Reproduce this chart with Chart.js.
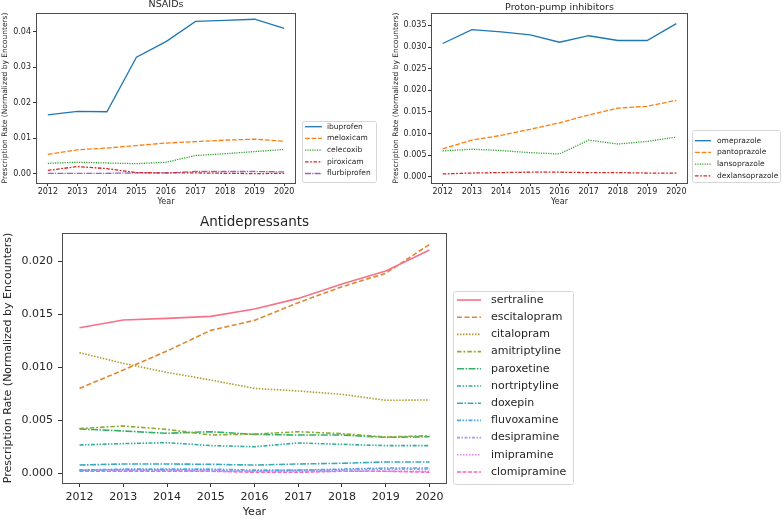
<!DOCTYPE html>
<html>
<head>
<meta charset="utf-8">
<script src="https://cdn.jsdelivr.net/npm/chart.js@4.4.0/dist/chart.umd.min.js"></script>
<style>
  html, body { margin: 0; padding: 0; background: #fff; }
  body { width: 784px; height: 519px; position: relative; overflow: hidden; }
  .box { position: absolute; }
</style>
</head>
<body>
<div class="box" style="left:0;top:0;width:390px;height:215px"><canvas id="nsaidChart"></canvas></div>
<div class="box" style="left:390px;top:0;width:394px;height:215px"><canvas id="ppiChart"></canvas></div>
<div class="box" style="left:0;top:205px;width:784px;height:314px"><canvas id="adChart"></canvas></div>
<script>
const years = [2012, 2013, 2014, 2015, 2016, 2017, 2018, 2019, 2020];

// NSAIDs
const ibuprofen    = [0.0166, 0.0176, 0.0175, 0.0328, 0.0372, 0.0429, 0.0432, 0.0435, 0.0409];
const meloxicam    = [0.0055, 0.0068, 0.0073, 0.0080, 0.0087, 0.0091, 0.0095, 0.0098, 0.0092];
const celecoxib    = [0.0030, 0.0033, 0.0031, 0.0029, 0.0033, 0.0052, 0.0057, 0.0063, 0.0069];
const piroxicam    = [0.0010, 0.0021, 0.0015, 0.0004, 0.0003, 0.0003, 0.0002, 0.0001, 0.0002];
const flurbiprofen = [0.0002, 0.0002, 0.0002, 0.0003, 0.0003, 0.0007, 0.0007, 0.0007, 0.0006];
const nsaidTicks = [0, 0.01, 0.02, 0.03, 0.04];

// Proton-pump inhibitors
const omeprazole      = [0.0308, 0.0340, 0.0335, 0.0328, 0.0311, 0.0326, 0.0315, 0.0315, 0.0354];
const pantoprazole    = [0.0065, 0.0085, 0.0096, 0.0110, 0.0125, 0.0143, 0.0159, 0.0163, 0.0177];
const lansoprazole    = [0.0060, 0.0064, 0.0061, 0.0056, 0.0053, 0.0085, 0.0076, 0.0082, 0.0092];
const dexlansoprazole = [0.0007, 0.0009, 0.0010, 0.0011, 0.0011, 0.0010, 0.0010, 0.0009, 0.0009];
const ppiTicks = [0, 0.005, 0.010, 0.015, 0.020, 0.025, 0.030, 0.035];

// Antidepressants
const sertraline    = [0.01372, 0.01444, 0.01460, 0.01479, 0.01548, 0.01648, 0.01783, 0.01906, 0.02104];
const escitalopram  = [0.00800, 0.00973, 0.01152, 0.01347, 0.01441, 0.01608, 0.01758, 0.01884, 0.02157];
const citalopram    = [0.01137, 0.01036, 0.00951, 0.00879, 0.00800, 0.00776, 0.00744, 0.00688, 0.00691];
const amitriptyline = [0.00421, 0.00446, 0.00414, 0.00361, 0.00370, 0.00392, 0.00374, 0.00342, 0.00355];
const paroxetine    = [0.00418, 0.00399, 0.00377, 0.00392, 0.00367, 0.00361, 0.00361, 0.00339, 0.00345];
const nortriptyline = [0.00267, 0.00280, 0.00289, 0.00261, 0.00251, 0.00286, 0.00273, 0.00261, 0.00261];
const doxepin       = [0.00078, 0.00088, 0.00088, 0.00085, 0.00078, 0.00088, 0.00095, 0.00107, 0.00107];
const fluvoxamine   = [0.00030, 0.00040, 0.00040, 0.00040, 0.00030, 0.00030, 0.00040, 0.00050, 0.00050];
const desipramine   = [0.00030, 0.00030, 0.00030, 0.00030, 0.00020, 0.00030, 0.00030, 0.00040, 0.00040];
const imipramine    = [0.00030, 0.00030, 0.00030, 0.00020, 0.00020, 0.00020, 0.00020, 0.00020, 0.00020];
const clomipramine  = [0.00020, 0.00020, 0.00020, 0.00020, 0.00010, 0.00010, 0.00020, 0.00020, 0.00010];
const adTicks = [0, 0.005, 0.010, 0.015, 0.020];

const FONT = 'DejaVu Sans';
const TEXT = '#262626';
const yTitle = 'Prescription Rate (Normalized by Encounters)';

function lineSet(label, values, color, dash, width) {
  return {
    label,
    data: years.map((x, i) => ({ x, y: values[i] })),
    borderColor: color,
    backgroundColor: color,
    borderDash: dash,
    borderWidth: width,
    pointRadius: 0,
    tension: 0,
    fill: false
  };
}

// frame around the plot, title over the plot, legend box outside
const framePlugin = {
  id: 'framePlugin',
  afterDraw(chart, args, o) {
    const { ctx, chartArea: a } = chart;
    ctx.save();
    ctx.strokeStyle = '#4d4d4d';
    ctx.lineWidth = 1;
    ctx.strokeRect(Math.round(a.left) + 0.5, Math.round(a.top) + 0.5,
      Math.round(a.right - a.left) - 1, Math.round(a.bottom - a.top));

    ctx.fillStyle = TEXT;
    ctx.font = `${o.titleSize}px "${FONT}"`;
    ctx.textAlign = 'center';
    ctx.textBaseline = 'middle';
    ctx.fillText(o.title, (a.left + a.right) / 2, o.titleY);

    // legend
    const L = o.legend;
    ctx.beginPath();
    if (ctx.roundRect) ctx.roundRect(L.x + 0.5, L.y + 0.5, L.w, L.h, 2);
    else ctx.rect(L.x + 0.5, L.y + 0.5, L.w, L.h);
    ctx.fillStyle = 'rgba(255,255,255,0.8)';
    ctx.fill();
    ctx.strokeStyle = '#d6d6d6';
    ctx.stroke();
    ctx.font = `${L.size}px "${FONT}"`;
    ctx.textAlign = 'left';
    chart.data.datasets.forEach((ds, i) => {
      const y = L.first + i * L.row;
      ctx.beginPath();
      ctx.setLineDash(ds.borderDash || []);
      ctx.strokeStyle = ds.borderColor;
      ctx.lineWidth = ds.borderWidth;
      ctx.moveTo(L.lx0, y);
      ctx.lineTo(L.lx1, y);
      ctx.stroke();
      ctx.setLineDash([]);
      ctx.fillStyle = TEXT;
      ctx.fillText(ds.label, L.tx, y);
    });
    ctx.restore();
  }
};

function axes(o) {
  const grid = { display: true, drawOnChartArea: false, drawTicks: true, tickLength: o.tl, color: '#333', lineWidth: 1 };
  return {
    x: {
      type: 'linear', min: 2011.6, max: 2020.4,
      afterBuildTicks: s => { s.ticks = years.map(v => ({ value: v })); },
      afterFit: s => { s.height = o.xh; },
      grid, border: { display: false },
      ticks: { padding: o.xpad, autoSkip: false, maxRotation: 0, color: TEXT,
        font: { family: FONT, size: o.tick }, callback: v => String(v) },
      title: { display: true, text: 'Year', color: TEXT,
        font: { family: FONT, size: o.xtitle }, padding: { top: 0, bottom: o.xtb } }
    },
    y: {
      type: 'linear', min: o.ymin, max: o.ymax,
      afterBuildTicks: s => { s.ticks = o.yt.map(v => ({ value: v })); },
      afterFit: s => { s.width = o.yw; },
      grid, border: { display: false },
      ticks: { padding: o.ypad, autoSkip: false, color: TEXT,
        font: { family: FONT, size: o.tick }, callback: v => v.toFixed(o.dec) },
      title: { display: true, text: yTitle, color: TEXT,
        font: { family: FONT, size: o.ytitle }, padding: { top: o.ytp, bottom: 0 } }
    }
  };
}

function makeChart(id, datasets, pad, scaleOpts, frame) {
  return new Chart(document.getElementById(id), {
    type: 'line',
    data: { datasets },
    options: {
      responsive: true, maintainAspectRatio: false, animation: false, devicePixelRatio: 1,
      layout: { padding: pad },
      plugins: { legend: { display: false }, tooltip: { enabled: false }, framePlugin: frame },
      scales: axes(scaleOpts)
    },
    plugins: [framePlugin]
  });
}

const lwTop = 1.3;
makeChart('nsaidChart', [
  lineSet('ibuprofen', ibuprofen, '#1f77b4', [], lwTop),
  lineSet('meloxicam', meloxicam, '#ff7f0e', [4.8, 1.8], lwTop),
  lineSet('celecoxib', celecoxib, '#2ca02c', [1.2, 1.2], lwTop),
  lineSet('piroxicam', piroxicam, '#d62728', [3.6, 1.5, 1.8, 1.5], lwTop),
  lineSet('flurbiprofen', flurbiprofen, '#9467bd', [6, 1.2, 1.2, 1.2], lwTop)
], { left: 0, top: 13, right: 94, bottom: 0 },
{ tl: 3, xh: 32, xpad: 1.5, tick: 8, xtitle: 8, xtb: 8.5, ymin: -0.00253, ymax: 0.04525, yt: nsaidTicks,
  yw: 36, ypad: 2, dec: 2, ytitle: 7.5, ytp: 0.5 },
{ title: 'NSAIDs', titleSize: 9.5, titleY: 5,
  legend: { x: 302, y: 121, w: 74, h: 61, first: 126.7, row: 11.7, lx0: 305, lx1: 322, tx: 327, size: 7.5 } });

makeChart('ppiChart', [
  lineSet('omeprazole', omeprazole, '#1f77b4', [], lwTop),
  lineSet('pantoprazole', pantoprazole, '#ff7f0e', [4.8, 1.8], lwTop),
  lineSet('lansoprazole', lansoprazole, '#2ca02c', [1.2, 1.2], lwTop),
  lineSet('dexlansoprazole', dexlansoprazole, '#d62728', [3.6, 1.5, 1.8, 1.5], lwTop)
], { left: 0, top: 13, right: 96, bottom: 0 },
{ tl: 3, xh: 32, xpad: 1.5, tick: 8, xtitle: 8, xtb: 8.5, ymin: -0.0014, ymax: 0.03785, yt: ppiTicks,
  yw: 41, ypad: 1.5, dec: 3, ytitle: 7.5, ytp: 1.5 },
{ title: 'Proton-pump inhibitors', titleSize: 9.5, titleY: 7.5,
  legend: { x: 302, y: 130, w: 88, h: 52, first: 140.7, row: 11.7, lx0: 305, lx1: 321, tx: 327, size: 7.5 } });

const lwAd = 1.6;
makeChart('adChart', [
  lineSet('sertraline', sertraline, '#f77189', [], lwAd),
  lineSet('escitalopram', escitalopram, '#dc8932', [5, 2.5], lwAd),
  lineSet('citalopram', citalopram, '#ae9d31', [1.5, 1.5], lwAd),
  lineSet('amitriptyline', amitriptyline, '#8dab2f', [4.5, 2, 1.8, 2], lwAd),
  lineSet('paroxetine', paroxetine, '#33b06a', [7, 1.5, 1.5, 1.5], lwAd),
  lineSet('nortriptyline', nortriptyline, '#35ad9c', [4, 1.5, 1.5, 1.5, 1.5, 1.5], lwAd),
  lineSet('doxepin', doxepin, '#38aabd', [6, 1.5, 1.5, 1.5], lwAd),
  lineSet('fluvoxamine', fluvoxamine, '#4ea8ea', [4, 1.5, 1.5, 1.5, 1.5, 1.5], lwAd),
  lineSet('desipramine', desipramine, '#a39cf4', [3, 1.5, 1.5, 1.5], lwAd),
  lineSet('imipramine', imipramine, '#dd7ff2', [1.5, 1.5], lwAd),
  lineSet('clomipramine', clomipramine, '#f567c4', [4, 1.5], lwAd)
], { left: 0, top: 28, right: 337, bottom: 0 },
{ tl: 4, xh: 36, xpad: 3.5, tick: 11, xtitle: 11, xtb: 0.5, ymin: -0.00091, ymax: 0.02264, yt: adTicks,
  yw: 62, ypad: 5, dec: 3, ytitle: 11, ytp: 1.5 },
{ title: 'Antidepressants', titleSize: 13.5, titleY: 17,
  legend: { x: 453, y: 86, w: 120, h: 193, first: 95, row: 17.2, lx0: 457, lx1: 481, tx: 491, size: 11 } });
</script>
</body>
</html>
